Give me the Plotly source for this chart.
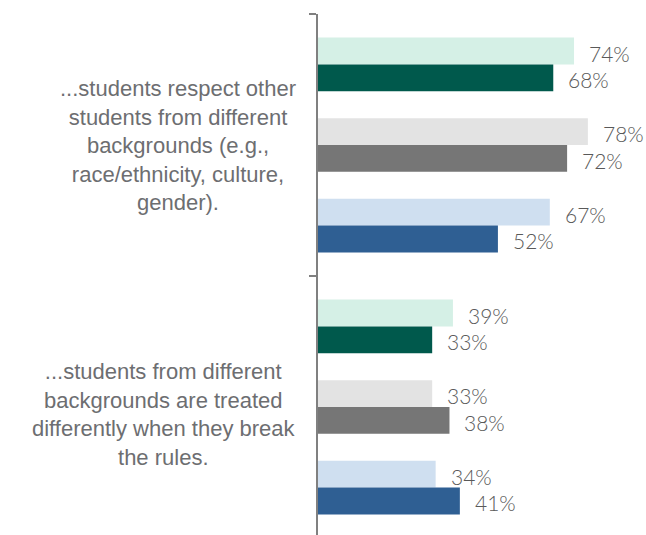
import plotly.graph_objects as go

# ---- data ----
categories = [
    "...students respect other students from different backgrounds (e.g., race/ethnicity, culture, gender).",
    "...students from different backgrounds are treated differently when they break the rules.",
]
category_labels = [
    "...students respect other<br>students from different<br>backgrounds (e.g.,<br>race/ethnicity, culture,<br>gender).",
    "...students from different<br>backgrounds are treated<br>differently when they break<br>the rules.",
]
series_names = ["Series 1", "Series 2", "Series 3", "Series 4", "Series 5", "Series 6"]
series_1 = [74, 39]
series_2 = [68, 33]
series_3 = [78, 33]
series_4 = [72, 38]
series_5 = [67, 34]
series_6 = [52, 41]
series_values = [series_1, series_2, series_3, series_4, series_5, series_6]

# ---- styles ----
colors = ["#d5f0e6", "#00594c", "#e3e3e3", "#767676", "#cfdff0", "#2f5f93"]
w = 0.1025
offsets = [-4 * w, -3 * w, -1 * w, 0, 2 * w, 3 * w]

fig = go.Figure()
annotations = []
for name, vals, col, off in zip(series_names, series_values, colors, offsets):
    fig.add_trace(go.Bar(
        y=categories, x=vals, orientation="h", name=name,
        marker=dict(color=col, line=dict(width=0)),
        offset=off, width=w, showlegend=False, hoverinfo="x",
    ))
    for i, v in enumerate(vals):
        annotations.append(dict(
            x=v, y=i + off + w / 2, xref="x", yref="y",
            text=f"{v}%", showarrow=False, xanchor="left", yanchor="middle",
            xshift=13, yshift=-2,
            font=dict(family="Lato, Liberation Sans, Arial", size=21,
                      color="#595959", weight=300),
        ))

yshifts = [0, -7]
for i, lab in enumerate(category_labels):
    annotations.append(dict(
        x=0, y=i, xref="paper", yref="y", text=lab, showarrow=False,
        xanchor="right", yanchor="middle", align="center",
        xshift=-20, yshift=yshifts[i],
        font=dict(family="Liberation Sans, Arial", size=22, color="#6d6e71"),
    ))

unit_px = 262
plot_h = 535 - 14
fig.update_layout(
    width=646, height=535,
    margin=dict(l=318, r=0, t=14, b=0),
    paper_bgcolor="white", plot_bgcolor="white",
    barmode="overlay",
    annotations=annotations,
    xaxis=dict(range=[0, 94.8], visible=False, fixedrange=True),
    yaxis=dict(
        type="category",
        range=[-0.5 + plot_h / unit_px, -0.5],
        showticklabels=False, showgrid=False, zeroline=False,
        showline=True, linecolor="#808080", linewidth=1.5,
        ticks="outside", tickson="boundaries", ticklen=7,
        tickcolor="#808080", tickwidth=1.5,
    ),
)

fig.write_html(
    "out.html",
    config={"displayModeBar": False},
    post_script="document.body.style.margin='0';document.body.style.overflow='hidden';",
)
